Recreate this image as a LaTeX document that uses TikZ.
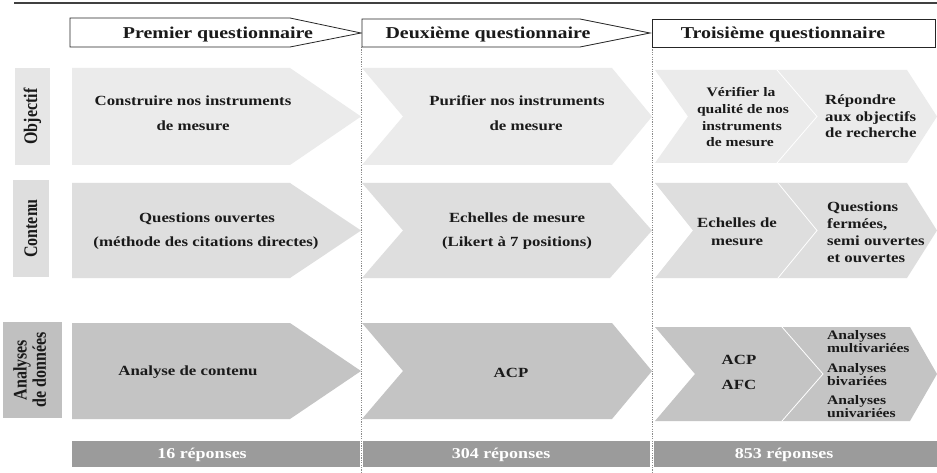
\documentclass[tikz,border=0pt]{standalone}
\usepackage{fontspec}
\setmainfont{Liberation Serif}[FakeStretch=1.2]
\newfontfamily\lblfont{Liberation Serif}
\definecolor{rowA}{HTML}{EBEBEB}
\definecolor{rowB}{HTML}{DEDEDE}
\definecolor{rowC}{HTML}{C4C4C4}
\definecolor{lblA}{HTML}{E6E6E6}
\definecolor{lblB}{HTML}{DEDEDE}
\definecolor{lblC}{HTML}{C0C0C0}
\definecolor{barc}{HTML}{9B9B9B}
\definecolor{txt}{HTML}{1A1A1A}
\tikzset{
  topline/.style={draw=black!75, line width=1.6pt},
  hdrshape/.style={draw=black!85, fill=white, line width=0.8pt},
  sepline/.style={draw=black!45, line width=0.6pt, dash pattern=on 1.2pt off 1.2pt},
  sepwhite/.style={draw=white, line width=0.8pt},
  hdr/.style={font=\fontsize{16.6}{20}\selectfont\bfseries, text=txt, anchor=base, inner sep=0pt},
  body/.style={font=\fontsize{14}{17}\selectfont\bfseries, text=txt, anchor=base, inner sep=0pt},
  bodyl/.style={body, anchor=base west},
  smallc/.style={font=\fontsize{13}{15}\selectfont\bfseries, text=txt, anchor=base, inner sep=0pt},
  smalll/.style={smallc, anchor=base west},
  rowlbl/.style={font=\lblfont\fontsize{16}{16}\selectfont\bfseries, text=txt, rotate=90, inner sep=0pt},
  bartxt/.style={font=\fontsize{15}{18}\selectfont\bfseries, text=white, anchor=base, inner sep=0pt}
}
\begin{document}
\begin{tikzpicture}[x=1pt,y=-1pt]
\useasboundingbox (0,0) rectangle (937,473);
\fill[white] (0,0) rectangle (937,473);

% top rule
\draw[topline] (14,3) -- (937,3);

% dashed separators
\draw[sepline] (361.5,47) -- (361.5,473);
\draw[sepline] (652.5,47) -- (652.5,473);

% headers
\draw[hdrshape] (70,18) -- (290,18) -- (361,33) -- (290,47) -- (70,47) -- cycle;
\draw[hdrshape] (362,19) -- (580,19) -- (650,33) -- (580,47) -- (362,47) -- cycle;
\draw[hdrshape] (652,19) rectangle (935,47);
\node[hdr] (h1) at (218,39) {Premier questionnaire};
\node[hdr] (h2) at (488,39) {Deuxième questionnaire};
\node[hdr] (h3) at (783,39) {Troisième questionnaire};

% row labels
\fill[lblA] (15,68) rectangle (50,165);
\node[rowlbl] (l1) at (32.5,116.5) {\scalebox{1}[1.2]{Objectif}};
\fill[lblB] (13,180) rectangle (49,277);
\node[rowlbl] (l2) at (31,228.5) {\scalebox{1}[1.2]{Contenu}};
\fill[lblC] (3,322) rectangle (62,418);
\node[rowlbl] (l3) at (32.5,370) {\scalebox{1}[1.2]{\begin{tabular}{@{}c@{}}Analyses\\[0pt]de données\end{tabular}}};

% ---- row 1 : Objectif
\fill[rowA] (72,68) -- (290,68) -- (361,116.5) -- (290,165) -- (72,165) -- cycle;
\fill[rowA] (362,68) -- (612,68) -- (652,116.5) -- (612,165) -- (362,165) -- (403,116.5) -- cycle;
\fill[rowA] (655,70) -- (777,70) -- (817,116.5) -- (777,163) -- (655,163) -- (688,116.5) -- cycle;
\fill[rowA] (777,70) -- (907,70) -- (937,116.5) -- (907,163) -- (777,163) -- (817,116.5) -- cycle;
\draw[sepwhite] (777,70) -- (817,116.5) -- (777,163);
\node[body] (o1a) at (193,106) {Construire nos instruments};
\node[body] (o1b) at (193,131) {de mesure};
\node[body] (o2a) at (517,106) {Purifier nos instruments};
\node[body] (o2b) at (526,131) {de mesure};
\node[smallc] (o3a) at (741,97) {Vérifier la};
\node[smallc] (o3b) at (743,114) {qualité de nos};
\node[smallc] (o3c) at (742,131) {instruments};
\node[smallc] (o3d) at (740,147) {de mesure};
\node[bodyl] (o4a) at (825,105) {Répondre};
\node[bodyl] (o4b) at (825,122) {aux objectifs};
\node[bodyl] (o4c) at (825,138) {de recherche};

% ---- row 2 : Contenu
\fill[rowB] (72,183) -- (290,183) -- (361,230.5) -- (290,278) -- (72,278) -- cycle;
\fill[rowB] (362,183) -- (610,183) -- (652,230.5) -- (610,278) -- (362,278) -- (403,230.5) -- cycle;
\fill[rowB] (655,183) -- (778,183) -- (817,230.5) -- (778,278) -- (655,278) -- (693,230.5) -- cycle;
\fill[rowB] (778,183) -- (907,183) -- (937,230.5) -- (907,278) -- (778,278) -- (817,230.5) -- cycle;
\draw[sepwhite] (778,183) -- (817,230.5) -- (778,278);
\node[body] (c1a) at (207,223) {Questions ouvertes};
\node[body] (c1b) at (206,247) {(méthode des citations directes)};
\node[body] (c2a) at (517,223) {Echelles de mesure};
\node[body] (c2b) at (517,247) {(Likert à 7 positions)};
\node[body] (c3a) at (737,228) {Echelles de};
\node[body] (c3b) at (737,246) {mesure};
\node[bodyl] (c4a) at (827,212) {Questions};
\node[bodyl] (c4b) at (827,229) {fermées,};
\node[bodyl] (c4c) at (827,245) {semi ouvertes};
\node[bodyl] (c4d) at (827,262) {et ouvertes};

% ---- row 3 : Analyses de données
\fill[rowC] (72,323) -- (290,323) -- (361,371) -- (290,419) -- (72,419) -- cycle;
\fill[rowC] (362,323) -- (612,323) -- (652,371) -- (612,419) -- (362,419) -- (403,371) -- cycle;
\fill[rowC] (655,327) -- (782,327) -- (823,374) -- (782,421) -- (655,421) -- (695,374) -- cycle;
\fill[rowC] (782,327) -- (910,327) -- (937,374) -- (910,421) -- (782,421) -- (823,374) -- cycle;
\draw[sepwhite] (782,327) -- (823,374) -- (782,421);
\node[body] (a1) at (188,375) {Analyse de contenu};
\node[body] (a2) at (511,377) {ACP};
\node[body] (a3a) at (739,364) {ACP};
\node[body] (a3b) at (739,389) {AFC};
\node[smalll] (a4a) at (827,339) {Analyses};
\node[smalll] (a4b) at (827,352) {multivariées};
\node[smalll] (a4c) at (827,372) {Analyses};
\node[smalll] (a4d) at (827,385) {bivariées};
\node[smalll] (a4e) at (827,404) {Analyses};
\node[smalll] (a4f) at (827,417) {univariées};

% ---- bottom bars
\fill[barc] (72,441) rectangle (360,467);
\fill[barc] (363,441) rectangle (650,467);
\fill[barc] (654,441) rectangle (937,467);
\node[bartxt] (b1) at (202,458) {16 réponses};
\node[bartxt] (b2) at (501,458) {304 réponses};
\node[bartxt] (b3) at (784,458) {853 réponses};
\end{tikzpicture}
\end{document}
